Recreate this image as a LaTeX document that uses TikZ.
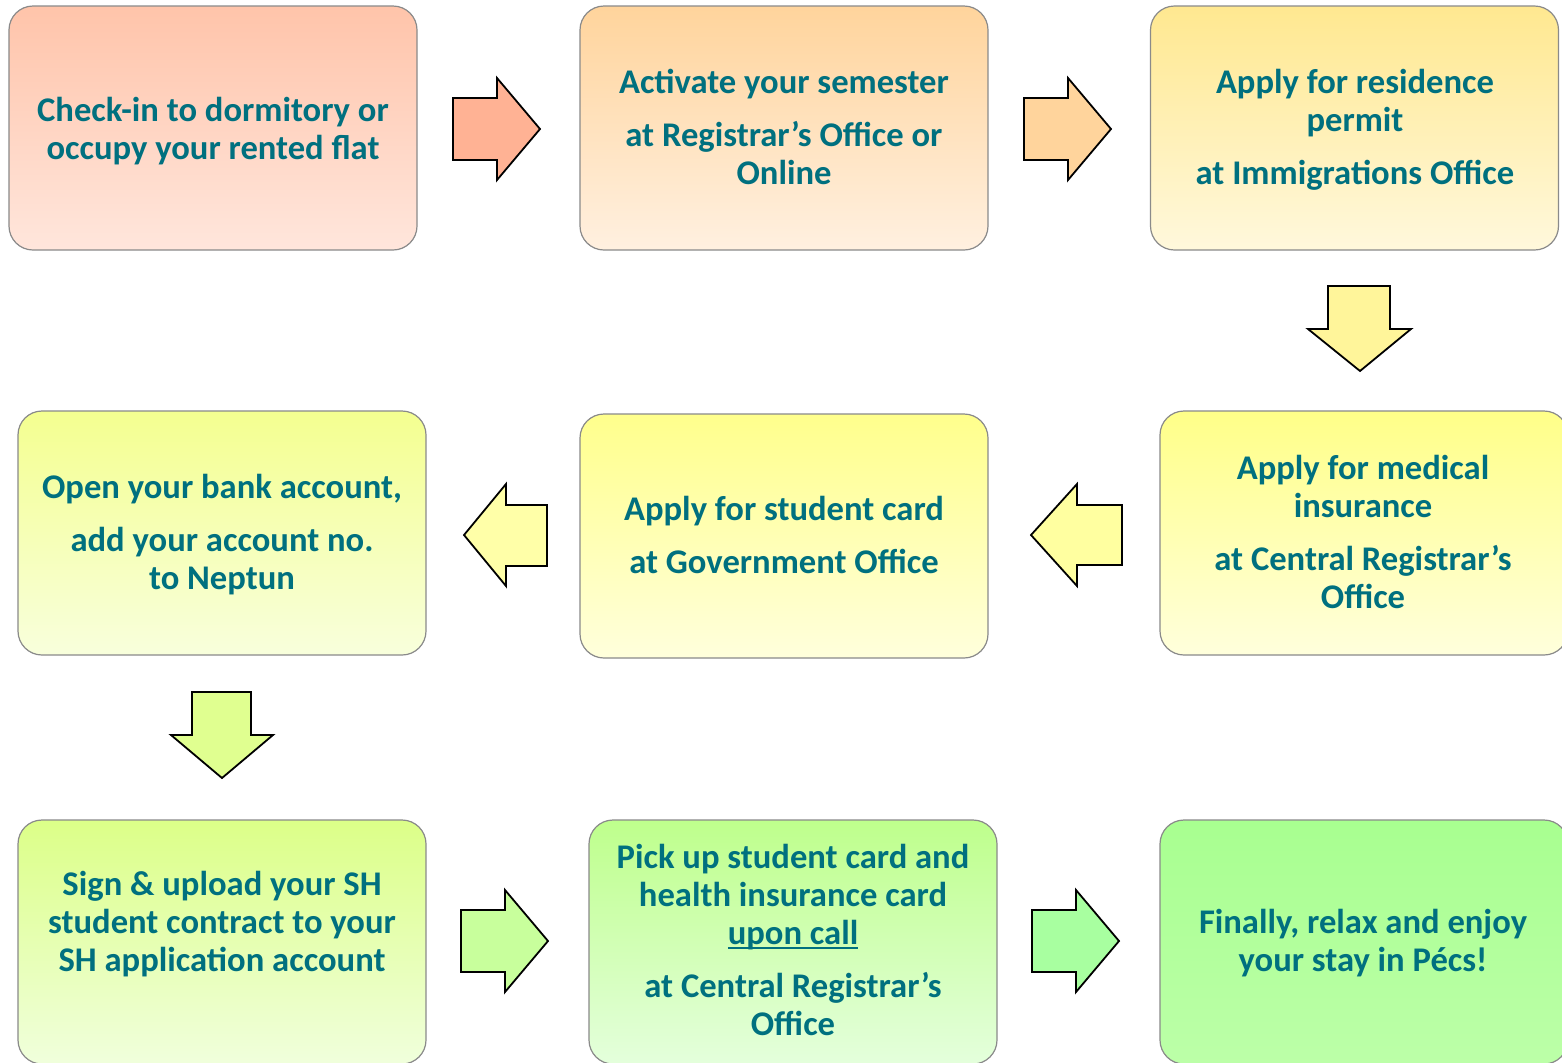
\documentclass[tikz,border=0pt]{standalone}
\usepackage{fontspec}
\setmainfont{Carlito}
\definecolor{txt}{HTML}{00707F}
\definecolor{edge}{HTML}{8A8A8A}
\newcommand\myul[1]{\setbox0\hbox{#1}\rlap{\rule[-2.6pt]{\wd0}{1.1pt}}\box0}
\begin{document}
\begin{tikzpicture}[x=0.5pt,y=-0.5pt,
  box/.style={draw=edge,line width=0.6pt,rounded corners=12pt,minimum width=204pt,minimum height=122pt,inner sep=0pt},
  lbl/.style={text=txt,align=center,font=\fontsize{17.3}{19}\selectfont\bfseries,inner sep=0pt},
  blk/.style={draw=black,line width=0.9pt,line join=miter}]
\useasboundingbox (0,0) rectangle (1562,1062);
\fill[white] (0,0) rectangle (1562,1062);
% boxes
\node[box,top color={rgb,255:red,255;green,196;blue,170},bottom color={rgb,255:red,255;green,230;blue,220}] (b1) at (213,128) {};
\node[box,top color={rgb,255:red,255;green,212;blue,156},bottom color={rgb,255:red,255;green,240;blue,224}] (b2) at (784,128) {};
\node[box,top color={rgb,255:red,255;green,232;blue,144},bottom color={rgb,255:red,255;green,248;blue,220}] (b3) at (1354.5,128) {};
\node[box,top color={rgb,255:red,255;green,255;blue,136},bottom color={rgb,255:red,255;green,255;blue,220}] (b4) at (1364,533) {};
\node[box,top color={rgb,255:red,255;green,255;blue,140},bottom color={rgb,255:red,255;green,255;blue,220}] (b5) at (784,536) {};
\node[box,top color={rgb,255:red,244;green,255;blue,144},bottom color={rgb,255:red,248;green,255;blue,220}] (b6) at (222,533) {};
\node[box,top color={rgb,255:red,220;green,255;blue,136},bottom color={rgb,255:red,240;green,255;blue,220}] (b7) at (222,942) {};
\node[box,top color={rgb,255:red,190;green,255;blue,140},bottom color={rgb,255:red,228;green,255;blue,220}] (b8) at (793,942) {};
\node[box,top color={rgb,255:red,168;green,255;blue,144},bottom color={rgb,255:red,188;green,255;blue,168}] (b9) at (1364,942) {};
% texts
\node[lbl] (t1) at (213,131) {Check-in to dormitory or\\occupy your rented flat};
\node[lbl] (t2) at (784,127) {Activate your semester\\[7.5pt]at Registrar’s Office or\\Online};
\node[lbl] (t3) at (1355,130) {Apply for residence\\permit\\[7.5pt]at Immigrations Office};
\node[lbl] (t4) at (1363,531.5) {Apply for medical\\insurance\\[7.5pt]at Central Registrar’s\\Office};
\node[lbl] (t5) at (784,534.5) {Apply for student card\\[7.5pt]at Government Office};
\node[lbl] (t6) at (222,534.5) {Open your bank account,\\[7.5pt]add your account no.\\to Neptun};
\node[lbl] (t7) at (222,924) {Sign \& upload your SH\\student contract to your\\SH application account};
\node[lbl] (t8) at (793,939.5) {Pick up student card and\\health insurance card\\\myul{upon call}\\[7.5pt]at Central Registrar’s\\Office};
\node[lbl] (t9) at (1363,943) {Finally, relax and enjoy\\your stay in Pécs!};
% block arrows
\filldraw[blk,fill={rgb,255:red,255;green,178;blue,148}] (453,98)--(497,98)--(497,78)--(540,129)--(497,180)--(497,160)--(453,160)--cycle;
\filldraw[blk,fill={rgb,255:red,255;green,212;blue,156}] (1024,98)--(1068,98)--(1068,78)--(1111,129)--(1068,180)--(1068,160)--(1024,160)--cycle;
\filldraw[blk,fill={rgb,255:red,255;green,245;blue,154}] (1328,286)--(1390,286)--(1390,329)--(1411,329)--(1360,371)--(1308,329)--(1328,329)--cycle;
\filldraw[blk,fill={rgb,255:red,255;green,255;blue,160}] (1122,505)--(1077,505)--(1077,484)--(1031,535)--(1077,586)--(1077,565)--(1122,565)--cycle;
\filldraw[blk,fill={rgb,255:red,255;green,255;blue,168}] (547,505)--(506,505)--(506,484)--(464,535)--(506,586)--(506,566)--(547,566)--cycle;
\filldraw[blk,fill={rgb,255:red,224;green,255;blue,144}] (192,692)--(251,692)--(251,735)--(273,735)--(222,778)--(171,735)--(192,735)--cycle;
\filldraw[blk,fill={rgb,255:red,200;green,255;blue,156}] (461,910)--(505,910)--(505,890)--(548,941)--(505,992)--(505,972)--(461,972)--cycle;
\filldraw[blk,fill={rgb,255:red,168;green,255;blue,160}] (1032,910)--(1076,910)--(1076,890)--(1119,941)--(1076,992)--(1076,972)--(1032,972)--cycle;
\end{tikzpicture}
\end{document}
